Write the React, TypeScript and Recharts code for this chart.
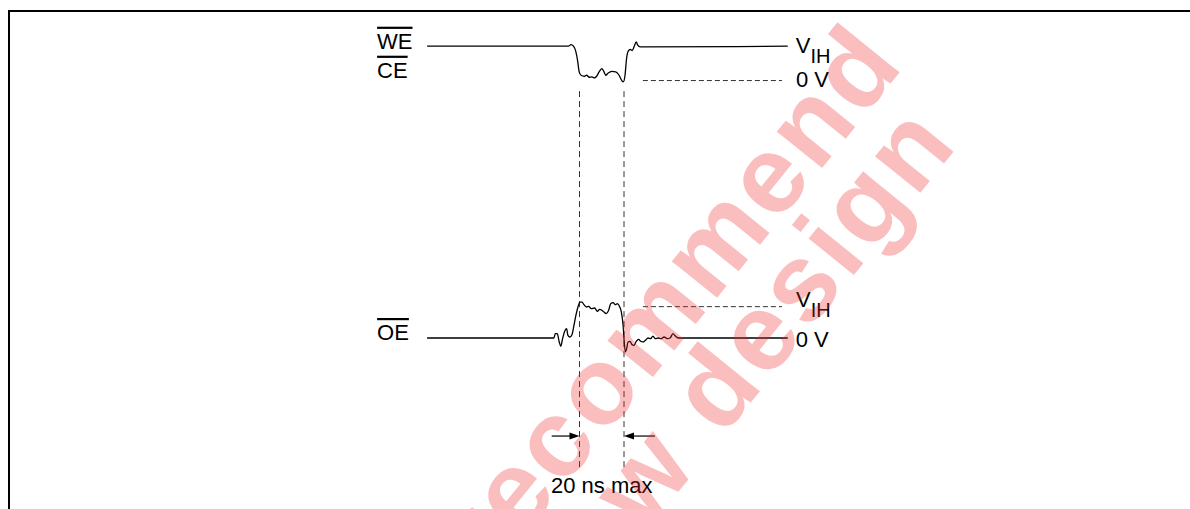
import { LineChart, Line, XAxis, YAxis, ReferenceLine, ReferenceDot } from "recharts";

// Glitch-protection timing: WE#/CE# low pulse vs OE# high pulse.
// Time in ns (0 = first marker), level in units of V_IH (0 = 0 V).

const WE_CE_WAVE: [number, number][] = [
  [-68.5, 1.04], [-5.0, 1.04], [-3.8, 1.09], [-2.7, 1.04], [-1.7, 0.89], [-0.8, 0.58],
  [-0.2, 0.28], [0.7, 0.16], [2.2, 0.13], [3.2, 0.16], [4.4, 0.1], [5.5, 0.11],
  [6.7, 0.08], [7.7, 0.13], [8.8, 0.26], [10.0, 0.36], [10.9, 0.28], [11.8, 0.16],
  [12.9, 0.23], [14.5, 0.28], [16.3, 0.26], [17.8, 0.16], [19.0, 0.0], [19.7, -0.04],
  [20.4, 0.13], [21.2, 0.69], [21.9, 0.89], [22.8, 0.94], [23.7, 0.91], [24.6, 1.04],
  [25.5, 1.17], [26.2, 1.07], [27.2, 1.02], [93.6, 1.04],
];

const OE_WAVE: [number, number][] = [
  [-68.5, 0], [-11.5, 0], [-10.9, 0.13], [-10.0, 0.13], [-9.1, -0.12], [-8.4, -0.25],
  [-7.6, -0.02], [-6.7, 0.2], [-5.8, 0.28], [-5.2, 0.08], [-4.3, 0.03], [-3.4, 0.1],
  [-2.5, 0.38], [-1.6, 0.69], [-0.7, 0.94], [0.2, 1.09], [1.1, 1.09], [2.0, 1.01],
  [3.1, 0.94], [4.1, 0.96], [5.3, 0.89], [6.8, 0.91], [8.0, 0.81], [9.1, 0.87],
  [10.6, 0.81], [12.0, 0.74], [13.1, 0.84], [14.0, 1.04], [15.1, 1.07], [16.1, 1.01],
  [17.0, 1.04], [18.1, 0.94], [18.8, 0.79], [19.6, 0.38], [20.0, -0.02], [20.6, -0.42],
  [21.2, -0.32], [21.8, -0.12], [22.7, -0.1], [23.6, -0.2], [24.5, -0.22], [25.5, -0.1],
  [26.6, -0.04], [27.5, -0.1], [28.5, -0.12], [29.6, -0.07], [30.8, 0], [32.0, -0.02],
  [33.0, 0.06], [34.1, -0.02], [35.3, 0], [36.8, -0.02], [38.0, 0.03], [39.5, -0.02],
  [40.7, 0], [42.0, 0.13], [43.1, 0.06], [44.3, 0], [93.6, 0],
];

const MARKER_TIMES = [0, 20];
const GLITCH_LIMIT = "20 ns max";
const REF_SPAN: [number, number] = [28.5, 91];
const OE_VIH_LEVEL = 0.95;
const WATERMARK = ["Not recommend", "for new design"];

// lane layout (chart units)
const WE_LANE = 7.8;
const OE_LANE = 0;
const W = 1190;
const H = 509;
const X_DOMAIN: [number, number] = [-260.45, 274.38];
const Y_DOMAIN: [number, number] = [-5.18, 10.24];

const FONT = "'Liberation Sans', Arial, Helvetica, sans-serif";

const weData = WE_CE_WAVE.map(([t, v]) => ({ t, v: v + WE_LANE }));
const oeData = OE_WAVE.map(([t, v]) => ({ t, v: v + OE_LANE }));

type TextSpec = { main: string; sub?: string; over?: boolean; dx: number; dy: number; anchor?: "start" | "middle" | "end"; size?: number };

function textShape(spec: TextSpec) {
  return (p: any) => (
    <text
      x={p.cx + spec.dx}
      y={p.cy + spec.dy}
      fontFamily={FONT}
      fontSize={spec.size ?? 22}
      fill="#000"
      textAnchor={spec.anchor ?? "start"}
      style={spec.over ? { textDecoration: "overline" } : undefined}
    >
      {spec.main}
      {spec.sub && (
        <tspan dy={10} fontSize={20}>
          {spec.sub}
        </tspan>
      )}
    </text>
  );
}

function arrowShape(p: any) {
  const { x1, y1, x2, y2 } = p;
  const dir = Math.sign(x2 - x1) || 1;
  return (
    <g>
      <line x1={x1} y1={y1} x2={x2 - dir * 8} y2={y2} stroke="#000" strokeWidth={1.2} />
      <polygon points={`${x2},${y2} ${x2 - dir * 10},${y2 - 3.5} ${x2 - dir * 10},${y2 + 3.5}`} fill="#000" />
    </g>
  );
}

const weStart = WE_CE_WAVE[0];
const weEnd = WE_CE_WAVE[WE_CE_WAVE.length - 1];
const oeStart = OE_WAVE[0];
const oeEnd = OE_WAVE[OE_WAVE.length - 1];

export default function App() {
  return (
    <div style={{ position: "absolute", left: 0, top: 0, width: W, height: H, overflow: "hidden", background: "#fff" }}>
      <div
        style={{
          position: "absolute",
          left: 8,
          top: 10,
          width: W - 8,
          height: H - 10,
          borderTop: "2px solid #000",
          borderLeft: "2px solid #000",
          boxSizing: "border-box",
        }}
      />
      <div style={{ position: "absolute", left: 0, top: 0 }}>
        <LineChart width={W} height={H} margin={{ top: 0, right: 0, bottom: 0, left: 0 }}>
          <XAxis type="number" dataKey="t" domain={X_DOMAIN} hide allowDataOverflow />
          <YAxis type="number" domain={Y_DOMAIN} hide allowDataOverflow />

          {/* marker lines through both lanes */}
          {MARKER_TIMES.map((t) => (
            <ReferenceLine
              key={`m${t}`}
              segment={[{ x: t, y: WE_LANE - 0.32 }, { x: t, y: -3.94 }]}
              stroke="#333"
              strokeWidth={1}
              strokeDasharray="6 4"
            />
          ))}

          {/* level references */}
          <ReferenceLine
            segment={[{ x: REF_SPAN[0], y: WE_LANE }, { x: REF_SPAN[1], y: WE_LANE }]}
            stroke="#333"
            strokeWidth={1}
            strokeDasharray="5 3"
          />
          <ReferenceLine
            segment={[{ x: REF_SPAN[0], y: OE_LANE + OE_VIH_LEVEL }, { x: REF_SPAN[1], y: OE_LANE + OE_VIH_LEVEL }]}
            stroke="#333"
            strokeWidth={1}
            strokeDasharray="5 3"
          />

          {/* 20 ns arrows */}
          <ReferenceLine segment={[{ x: -12.5, y: -2.97 }, { x: MARKER_TIMES[0], y: -2.97 }]} shape={arrowShape} />
          <ReferenceLine segment={[{ x: 33.9, y: -2.97 }, { x: MARKER_TIMES[1], y: -2.97 }]} shape={arrowShape} />

          <Line
            data={weData}
            dataKey="v"
            type="monotone"
            stroke="#000"
            strokeWidth={1.3}
            dot={false}
            activeDot={false}
            isAnimationActive={false}
          />
          <Line
            data={oeData}
            dataKey="v"
            type="monotone"
            stroke="#000"
            strokeWidth={1.3}
            dot={false}
            activeDot={false}
            isAnimationActive={false}
          />

          {/* signal names */}
          <ReferenceDot x={weStart[0]} y={weStart[1] + WE_LANE} r={0} shape={textShape({ main: "WE", over: true, dx: -50, dy: 2.5 })} />
          <ReferenceDot x={weStart[0]} y={weStart[1] + WE_LANE} r={0} shape={textShape({ main: "CE", over: true, dx: -50, dy: 31.5 })} />
          <ReferenceDot x={oeStart[0]} y={oeStart[1] + OE_LANE} r={0} shape={textShape({ main: "OE", over: true, dx: -50, dy: 2 })} />

          {/* level labels */}
          <ReferenceDot x={weEnd[0]} y={weEnd[1] + WE_LANE} r={0} shape={textShape({ main: "V", sub: "IH", dx: 8, dy: 7 })} />
          <ReferenceDot x={REF_SPAN[1]} y={WE_LANE} r={0} shape={textShape({ main: "0 V", dx: 14, dy: 6.5 })} />
          <ReferenceDot x={REF_SPAN[1]} y={OE_LANE + OE_VIH_LEVEL} r={0} shape={textShape({ main: "V", sub: "IH", dx: 14, dy: 0 })} />
          <ReferenceDot x={oeEnd[0]} y={oeEnd[1] + OE_LANE} r={0} shape={textShape({ main: "0 V", dx: 8, dy: 8.5 })} />

          <ReferenceDot
            x={(MARKER_TIMES[0] + MARKER_TIMES[1]) / 2}
            y={-4.7}
            r={0}
            shape={textShape({ main: GLITCH_LIMIT, dx: 0, dy: 0, anchor: "middle" })}
          />
        </LineChart>
      </div>

      {/* watermark */}
      <svg width={W} height={H} style={{ position: "absolute", left: 0, top: 0, pointerEvents: "none" }}>
        <g
          transform="translate(627,409) rotate(-51)"
          fill="rgb(240,40,40)"
          fillOpacity={0.3}
          fontFamily={FONT}
          fontWeight="bold"
          fontSize={110}
          letterSpacing={4}
          textAnchor="middle"
        >
          <text x={0} y={0}>{WATERMARK[0]}</text>
          <text x={0} y={92}>{WATERMARK[1]}</text>
        </g>
      </svg>
    </div>
  );
}
